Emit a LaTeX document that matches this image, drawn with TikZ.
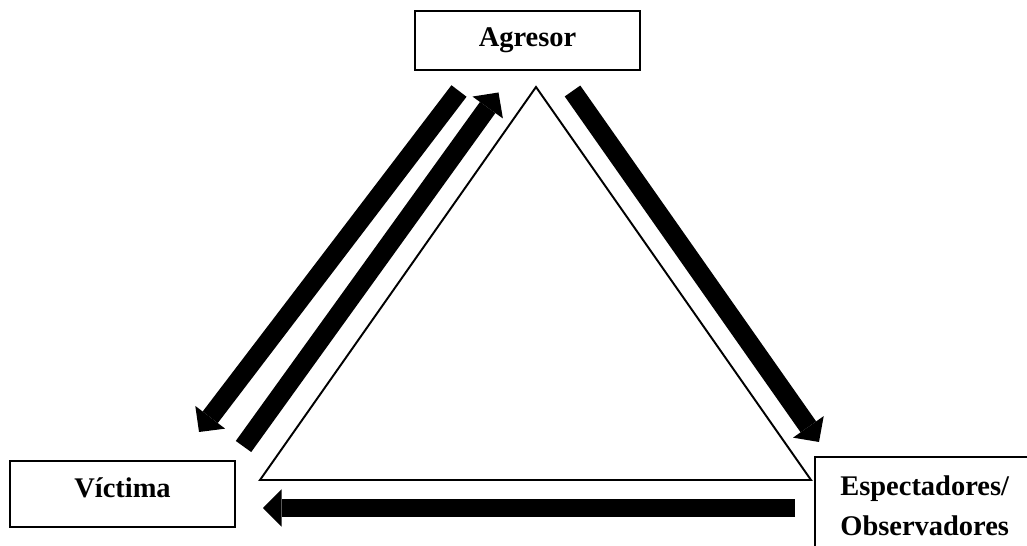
\documentclass[tikz,border=0pt]{standalone}
\usepackage{fontspec}
\setmainfont{Liberation Serif}
\usepackage{tikz}
\usetikzlibrary{arrows.meta, positioning, calc}
\tikzset{
    role/.style={
        rectangle, draw, line width=1.1pt, fill=white,
        minimum width=4.5cm, text centered,
        font=\fontsize{16.2}{22.8}\selectfont\bfseries,
        text height=0.7em
    },
    rolebox/.style={rectangle, draw, line width=1.1pt, fill=white},
    roletext/.style={
        align=left,
        font=\fontsize{16.2}{22.8}\selectfont\bfseries
    },
    tri/.style={draw, line width=1.1pt},
    flow/.style={line width=0.38cm, -{Triangle[length=0.37cm, width=0.75cm, line width=0pt]}}
}
\begin{document}
\begin{tikzpicture}[x=0.02cm, y=-0.02cm]
        \useasboundingbox (0,0) rectangle (1027,546);
        \clip (0,0) rectangle (1027,546);
        % Layout
        \node [role, minimum height=1.18cm, text depth=0.05em] (agresor) at (527.5, 40.5) {Agresor};
        \node [role, minimum height=1.32cm, text depth=0.33em] (victima) at (122.5, 494) {Víctima};
        \node [rolebox, anchor=north west, minimum width=5cm, minimum height=3cm] (espect) at (814, 456) {};
        \node [roletext, anchor=north west, inner xsep=0.52cm, inner ysep=0.39cm] (espectText) at (espect.north west) {Espectadores/\\Observadores};

        % Triangle
        \coordinate (top) at (536, 87);
        \coordinate (left) at (260, 480);
        \coordinate (right) at (811, 480);
        \draw [tri] (top) -- (left) -- (right) -- cycle;

        % Flow ends
        \coordinate (avStart) at (459, 91);
        \coordinate (avEnd) at (199, 432);
        \coordinate (vaStart) at (243.5, 446.5);
        \coordinate (vaEnd) at (498.5, 92.5);
        \coordinate (aeStart) at (572.5, 91);
        \coordinate (aeEnd) at (819, 442);
        \coordinate (evStart) at (795, 508);
        \coordinate (evEnd) at (263, 508);

        % Flows
        \draw [flow] (avStart) -- (avEnd);
        \draw [flow] (vaStart) -- (vaEnd);
        \draw [flow] (aeStart) -- (aeEnd);
        \draw [flow] (evStart) -- (evEnd);
    \end{tikzpicture}
\end{document}
